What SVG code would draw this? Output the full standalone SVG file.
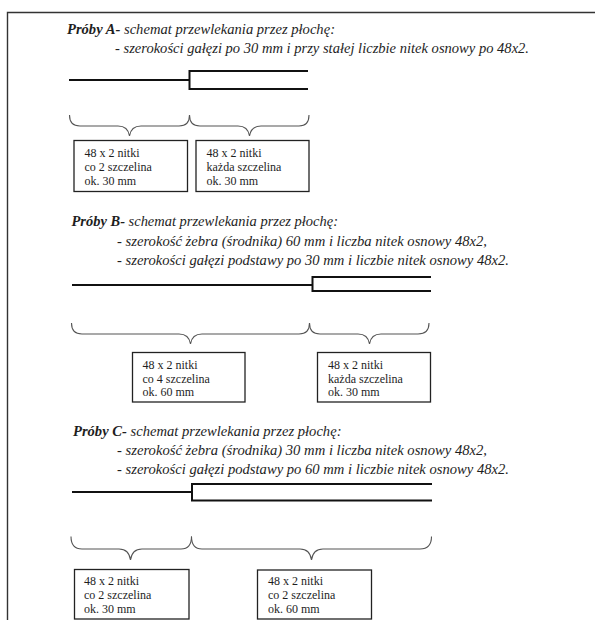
<svg xmlns="http://www.w3.org/2000/svg" width="595" height="620" viewBox="0 0 595 620">
<style>
.frame{fill:none;stroke:#333;stroke-width:1.4}
.t{font-style:italic;font-size:14.5px;fill:#1e1e1e}
.b{font-weight:bold}
.box rect{fill:#fff;stroke:#222;stroke-width:1.3}
.box text{font-size:12px;fill:#1e1e1e}
.scheme{fill:none;stroke:#111;stroke-width:2}
.brace{fill:none;stroke:#555;stroke-width:1.1}
</style>
<rect width="595" height="620" fill="#fff"/>
<path class="frame" d="M7.5,620 V12.5 H595"/>

<g font-family="Liberation Serif, DejaVu Serif, serif">
<g id="heading-A">
<text class="t" x="67" y="34" textLength="268" lengthAdjust="spacingAndGlyphs"><tspan class="b">Próby A-</tspan> schemat przewlekania przez płochę:</text>
<text class="t" x="115" y="53" textLength="414" lengthAdjust="spacingAndGlyphs">- szerokości gałęzi po 30 mm i przy stałej liczbie nitek osnowy po 48x2.</text>
</g>
<g id="heading-B">
<text class="t" x="71.5" y="226" textLength="266.5" lengthAdjust="spacingAndGlyphs"><tspan class="b">Próby B-</tspan> schemat przewlekania przez płochę:</text>
<text class="t" x="117" y="246" textLength="370" lengthAdjust="spacingAndGlyphs">- szerokość żebra (środnika) 60 mm i liczba nitek osnowy 48x2,</text>
<text class="t" x="117" y="265" textLength="392" lengthAdjust="spacingAndGlyphs">- szerokości gałęzi podstawy po 30 mm i liczbie nitek osnowy 48x2.</text>
</g>
<g id="heading-C">
<text class="t" x="73" y="436" textLength="268.5" lengthAdjust="spacingAndGlyphs"><tspan class="b">Próby C-</tspan> schemat przewlekania przez płochę:</text>
<text class="t" x="117" y="455" textLength="370" lengthAdjust="spacingAndGlyphs">- szerokość żebra (środnika) 30 mm i liczba nitek osnowy 48x2,</text>
<text class="t" x="117" y="474" textLength="392" lengthAdjust="spacingAndGlyphs">- szerokości gałęzi podstawy po 60 mm i liczbie nitek osnowy 48x2.</text>
</g>

<g id="scheme-A" class="scheme">
<path d="M69,80 H189.5 M189.5,70.5 V89.5 M188.5,71 H308 M188.5,89 H308"/>
</g>
<g id="scheme-B" class="scheme">
<path d="M72,285 H312.5 M312.5,276 V292 M311.5,277 H431 M311.5,291 H431"/>
</g>
<g id="scheme-C" class="scheme">
<path d="M72,492 H192 M192,483.5 V501 M191,484 H432 M191,500.5 H432"/>
</g>

<g id="connectors" class="brace">
<path d="M69.5,115 Q69.5,126 80,126 H118 Q128,126 129.5,136 Q131,126 141,126 H179 Q189.5,126 189.5,115"/>
<path d="M189.5,115 Q189.5,126 200,126 H238 Q248,126 249.5,136 Q251,126 261,126 H299 Q309,126 309,115"/>
<path d="M71.5,323 Q71.5,334 82,334 H179 Q189,334 190.5,344 Q192,334 202,334 H299 Q309.5,334 309.5,323"/>
<path d="M309.5,323 Q309.5,334 320,334 H358 Q368,334 369.5,344 Q371,334 381,334 H418 Q429,334 429,323"/>
<path d="M71,536.5 Q71,549 82,549 H119 Q129,549 130.5,560 Q132,549 142,549 H181 Q191.5,549 191.5,536.5"/>
<path d="M191.5,536.5 Q191.5,549 202,549 H300 Q310,549 311.5,560 Q313,549 323,549 H420 Q431.5,549 431.5,536.5"/>
</g>

<g id="box-A1" class="box">
<rect x="74" y="140.5" width="113.5" height="51"/>
<text x="84.5" y="157">48 x 2 nitki</text>
<text x="84.5" y="170.5">co 2 szczelina</text>
<text x="84.5" y="184.5">ok.  30 mm</text>
</g>
<g id="box-A2" class="box">
<rect x="196" y="140.5" width="113" height="51"/>
<text x="206.5" y="157">48 x 2 nitki</text>
<text x="206.5" y="170.5">każda szczelina</text>
<text x="206.5" y="184.5">ok. 30 mm</text>
</g>
<g id="box-B1" class="box">
<rect x="132.5" y="352.5" width="112.5" height="49.5"/>
<text x="142.5" y="369">48 x 2 nitki</text>
<text x="142.5" y="382.5">co 4 szczelina</text>
<text x="142.5" y="396">ok. 60 mm</text>
</g>
<g id="box-B2" class="box">
<rect x="317.5" y="352.5" width="113" height="49.5"/>
<text x="328" y="369">48 x 2 nitki</text>
<text x="328" y="382.5">każda szczelina</text>
<text x="328" y="396">ok. 30 mm</text>
</g>
<g id="box-C1" class="box">
<rect x="74.5" y="569.5" width="114.5" height="49.5"/>
<text x="84" y="585">48 x 2 nitki</text>
<text x="84" y="599">co 2 szczelina</text>
<text x="84" y="613">ok.  30 mm</text>
</g>
<g id="box-C2" class="box">
<rect x="257.5" y="570" width="114" height="49"/>
<text x="268" y="585">48 x 2 nitki</text>
<text x="268" y="599">co 2 szczelina</text>
<text x="268" y="613">ok.  60 mm</text>
</g>
</g>
</svg>
